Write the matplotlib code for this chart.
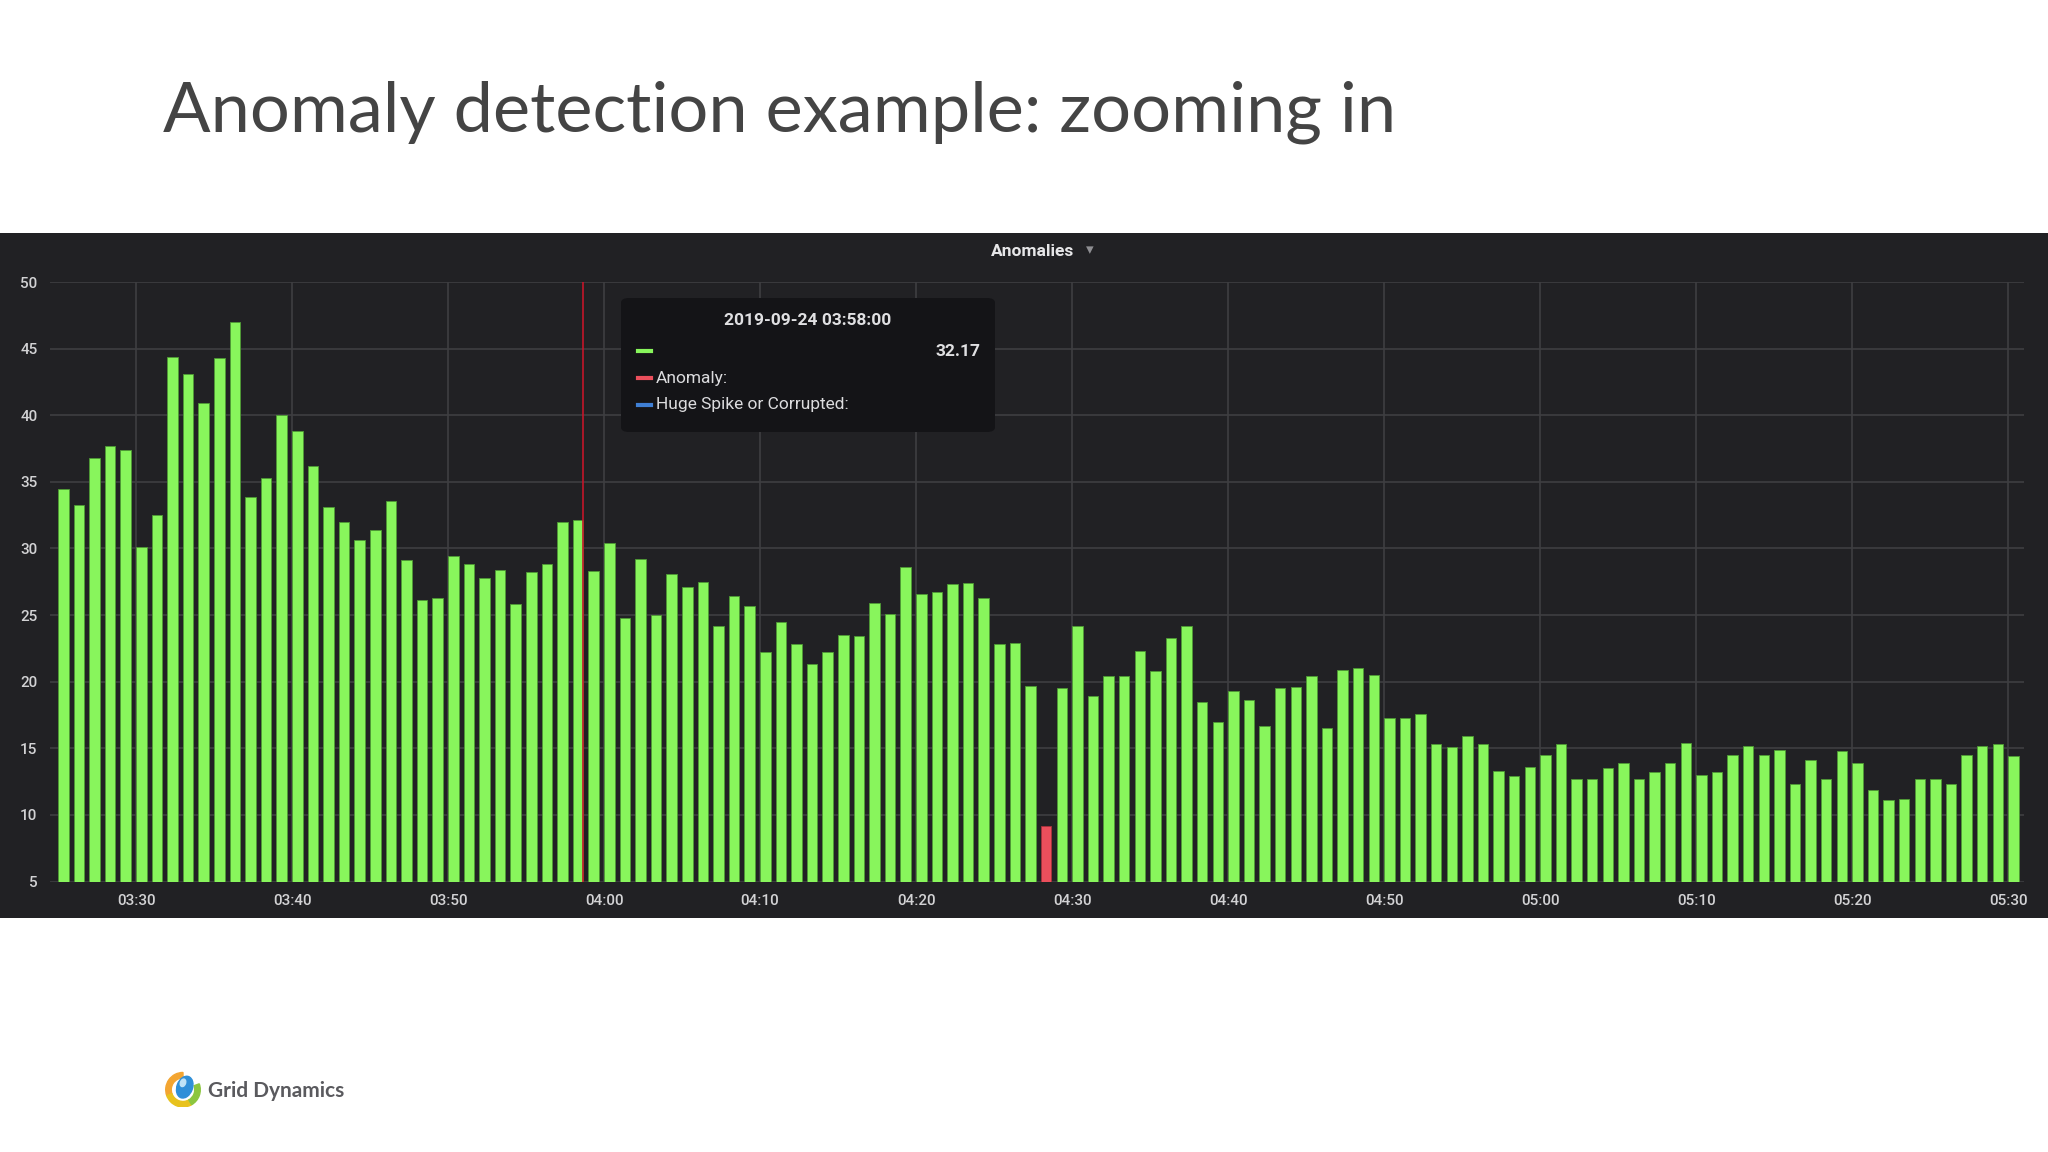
import matplotlib
matplotlib.use("Agg")
import matplotlib.pyplot as plt
import matplotlib.dates as mdates
from matplotlib.patches import Rectangle, FancyBboxPatch, Wedge, Ellipse
import numpy as np
import pandas as pd

# ---------------------------------------------------------------
# DATA (one bar per minute, 03:25 -> 05:30)
# ---------------------------------------------------------------
start_time = "2019-09-24 03:25"

values = [
    34.5, 33.3, 36.8, 37.7, 37.4, 30.1, 32.5, 44.4, 43.1, 40.9,
    44.3, 47.0, 33.9, 35.3, 40.0, 38.8, 36.2, 33.1, 32.0, 30.6,
    31.4, 33.6, 29.1, 26.1, 26.3, 29.4, 28.8, 27.8, 28.4, 25.8,
    28.2, 28.8, 32.0, 32.17, 28.3, 30.4, 24.8, 29.2, 25.0, 28.1,
    27.1, 27.5, 24.2, 26.4, 25.7, 22.2, 24.5, 22.8, 21.3, 22.2,
    23.5, 23.4, 25.9, 25.1, 28.6, 26.6, 26.7, 27.3, 27.4, 26.3,
    22.8, 22.9, 19.7, np.nan, 19.5, 24.2, 18.9, 20.4, 20.4, 22.3,
    20.8, 23.3, 24.2, 18.5, 17.0, 19.3, 18.6, 16.7, 19.5, 19.6,
    20.4, 16.5, 20.9, 21.0, 20.5, 17.3, 17.3, 17.6, 15.3, 15.1,
    15.9, 15.3, 13.3, 12.9, 13.6, 14.5, 15.3, 12.7, 12.7, 13.5,
    13.9, 12.7, 13.2, 13.9, 15.4, 13.0, 13.2, 14.5, 15.2, 14.5,
    14.9, 12.3, 14.1, 12.7, 14.8, 13.9, 11.9, 11.1, 11.2, 12.7,
    12.7, 12.3, 14.5, 15.2, 15.3, 14.4,
]
times = pd.date_range(start_time, periods=len(values), freq="1min")

anomaly_times = pd.to_datetime(["2019-09-24 04:28"])
anomaly_values = [9.2]

hover_time = pd.Timestamp("2019-09-24 03:58:40")
tooltip_time = pd.Timestamp("2019-09-24 03:58:00")
tooltip_value = values[list(times).index(tooltip_time)]

y_ticks = [5, 10, 15, 20, 25, 30, 35, 40, 45, 50]
x_range = (pd.Timestamp("2019-09-24 03:24:29"), pd.Timestamp("2019-09-24 05:31:01"))

# ---------------------------------------------------------------
# STYLE
# ---------------------------------------------------------------
W, H = 2048, 1152
GREEN = "#88f55c"
RED = "#eb4f5c"
BLUE = "#3f7fd4"
PANEL = "#212124"
TEXT = "#d2d2d4"

def fx(px):
    return px / W

def fy(py):
    return 1 - py / H

fig = plt.figure(figsize=(W / 100, H / 100), dpi=100, facecolor="white")

# slide title
fig.text(fx(163), fy(131), "Anomaly detection example: zooming in",
         fontsize=50.7, family="Lato", color="#444444", va="baseline", ha="left")

# dark grafana panel
fig.patches.append(Rectangle((0, fy(918)), 1, fy(232.5) - fy(918),
                             transform=fig.transFigure, facecolor=PANEL,
                             edgecolor="none", zorder=-5))
fig.text(fx(1033), fy(251), "Anomalies", fontsize=12.5, family="Roboto",
         fontweight="bold", color="#e6e6e8", ha="center", va="center")
fig.text(fx(1090), fy(250), "\u25be", fontsize=11, family="DejaVu Sans",
         color="#8e8e92", ha="center", va="center")

# ---------------------------------------------------------------
# BAR CHART
# ---------------------------------------------------------------
ax = fig.add_axes([fx(50), fy(881.6), fx(2024) - fx(50), fy(282) - fy(881.6)])
ax.set_facecolor("none")
ax.set_zorder(1)
bar_w = 0.67 / 1440
ax.bar(times, values, width=bar_w, align="edge", color=GREEN,
       edgecolor="#4f9a35", linewidth=0.6, zorder=3)
ax.bar(anomaly_times, anomaly_values, width=bar_w, align="edge", color=RED,
       edgecolor="#a8323c", linewidth=0.6, zorder=3)
ax.axvline(hover_time, color="#c4162a", lw=1.2, zorder=4)

ax.set_xlim(x_range)
ax.set_ylim(5, 50)
ax.set_yticks(y_ticks)
ax.xaxis.set_major_locator(mdates.MinuteLocator(byminute=range(0, 60, 10)))
ax.xaxis.set_major_formatter(mdates.DateFormatter("%H:%M"))
ax.grid(True, color="#3e3e42", lw=1.2, zorder=1)
ax.set_axisbelow(True)
for s in ax.spines.values():
    s.set_visible(False)
ax.tick_params(length=0, colors=TEXT, labelsize=11, pad=9)
for lab in ax.get_xticklabels() + ax.get_yticklabels():
    lab.set_family("Roboto")
    lab.set_fontweight("medium")

# ---------------------------------------------------------------
# TOOLTIP
# ---------------------------------------------------------------
fig.patches.append(FancyBboxPatch((fx(621), fy(432)), fx(995) - fx(621), fy(298) - fy(432),
                                  boxstyle="round,pad=0,rounding_size=0.004",
                                  transform=fig.transFigure, facecolor="#141417",
                                  edgecolor="none", zorder=5))
fig.text(fx(808), fy(321), tooltip_time.strftime("%Y-%m-%d %H:%M:%S"), fontsize=12.5,
         family="Roboto", fontweight="bold", color="#e0e0e2", ha="center", va="center", zorder=6)
rows = [(351, GREEN, ""), (378, RED, "Anomaly:"), (405, BLUE, "Huge Spike or Corrupted:")]
for py, c, label in rows:
    fig.lines.append(plt.Line2D([fx(638), fx(651)], [fy(py), fy(py)], color=c, lw=3,
                                transform=fig.transFigure, zorder=6))
    fig.text(fx(656), fy(py), label, fontsize=12.5, family="Roboto", color="#dcdcde",
             ha="left", va="center", zorder=6)
fig.text(fx(980), fy(351), f"{tooltip_value:.2f}", fontsize=12.5, family="Roboto",
         fontweight="bold", color="#e0e0e2", ha="right", va="center", zorder=6)

# ---------------------------------------------------------------
# FOOTER LOGO
# ---------------------------------------------------------------
lax = fig.add_axes([fx(164), fy(1108), fx(202) - fx(164), fy(1068) - fy(1108)])
lax.set_xlim(-1.1, 1.1)
lax.set_ylim(-1.1, 1.1)
lax.set_aspect("equal")
lax.axis("off")
lax.add_patch(Wedge((0, -0.1), 1.0, 90, 200, width=0.32, color="#f3a531"))
lax.add_patch(Wedge((0, -0.1), 1.0, 200, 300, width=0.32, color="#e8c21d"))
lax.add_patch(Wedge((0, -0.1), 1.0, 300, 380, width=0.32, color="#8cc63f"))
lax.add_patch(Ellipse((0.1, 0.05), 0.9, 1.3, angle=-20, color="#2f8fd8"))
lax.add_patch(Ellipse((0.0, 0.3), 0.3, 0.45, angle=-20, color="#bfe3f7"))
fig.text(fx(208), fy(1091), "Grid Dynamics", fontsize=15, family="Lato",
         fontweight="bold", color="#5a5a5e", ha="left", va="center")

fig.savefig("out.png", dpi=100, facecolor="white")
